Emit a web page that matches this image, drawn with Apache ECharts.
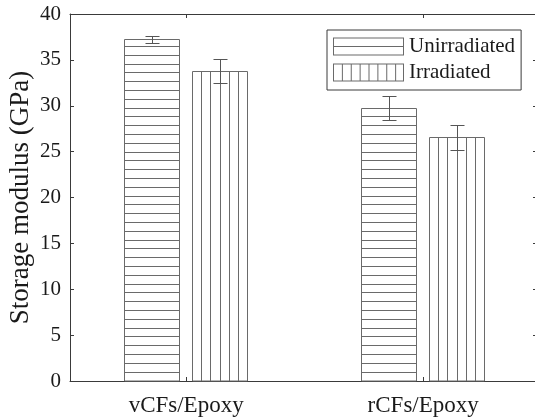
<!DOCTYPE html>
<html>
<head>
<meta charset="utf-8">
<script src="https://cdn.jsdelivr.net/npm/echarts@6/dist/echarts.min.js"></script>
<style>
  html, body { margin: 0; padding: 0; background: #fff; }
  #chart { width: 535px; height: 420px; }
</style>
</head>
<body>
<div id="chart"></div>
<script>
// ---- data ----
const categories = ['vCFs/Epoxy', 'rCFs/Epoxy'];
const seriesNames = ['Unirradiated', 'Irradiated'];
const unirradiated = [37.2, 29.7];
const unirradiatedErr = [0.4, 1.35];
const irradiated = [33.7, 26.5];
const irradiatedErr = [1.3, 1.4];
const yMin = 0, yMax = 40, yStep = 5;
const axisTitle = 'Storage modulus (GPa)';

// ---- style constants ----
const FONT = '"Liberation Serif", "Times New Roman", serif';
const AXIS = '#3a3a3a';
const LINE = '#6a6a6a';
const ERR = '#555';
const BAR_W = 0.232;   // bar width in category units
const BAR_GAP = 0.055; // gap between bars in a group
const H_STEP = 8.8;    // px between horizontal hatch lines
const V_DIV = 6;       // vertical hatch divisions per bar
const CAP = 7;         // half cap width px

function crisp(v) { return Math.round(v - 0.5) + 0.5; }
function seg(x1, y1, x2, y2, color) {
  return { type: 'line', shape: { x1: x1, y1: y1, x2: x2, y2: y2 },
           style: { stroke: color || LINE, lineWidth: 1 } };
}

function makeRender(side, hatch) {
  return function (params, api) {
    const xv = api.value(0), v = api.value(1), e = api.value(2);
    const unit = api.size([1, 0])[0];
    const bw = BAR_W * unit, gap = BAR_GAP * unit;
    const base = api.coord([xv, 0]);
    const cx = base[0] + side * (bw + gap) / 2;
    const yb = base[1];
    const yt = crisp(api.coord([xv, v])[1]);
    const yHi = crisp(api.coord([xv, v + e])[1]);
    const yLo = crisp(api.coord([xv, v - e])[1]);
    const x0 = crisp(cx - bw / 2), x1 = crisp(cx + bw / 2);
    const c = crisp(cx);
    const children = [{
      type: 'rect',
      shape: { x: x0, y: yt, width: x1 - x0, height: yb - yt },
      style: { fill: '#fff', stroke: LINE, lineWidth: 1 }
    }];
    if (hatch === 'h') {
      for (let y = yb - H_STEP; y > yt + 2; y -= H_STEP) {
        children.push(seg(x0, crisp(y), x1, crisp(y)));
      }
    } else {
      for (let k = 1; k < V_DIV; k++) {
        const x = crisp(x0 + (x1 - x0) * k / V_DIV);
        children.push(seg(x, yt, x, yb));
      }
    }
    children.push(seg(c, yHi, c, yLo, ERR));
    children.push(seg(c - CAP, yHi, c + CAP, yHi, ERR));
    children.push(seg(c - CAP, yLo, c + CAP, yLo, ERR));
    return { type: 'group', children: children };
  };
}

function buildData(vals, errs) {
  return vals.map(function (v, i) { return [i + 1, v, errs[i]]; });
}

// legend icons (71 x 18 units)
const frame = 'M0 0H71V1H0Z M0 17H71V18H0Z M0 0H1V18H0Z M70 0H71V18H70Z';
const iconH = 'path://' + frame + ' M0 8.5H71V9.5H0Z';
let vLines = '';
for (let k = 1; k < 8; k++) {
  const x = (71 * k / 8).toFixed(2);
  vLines += ' M' + x + ' 0H' + (71 * k / 8 + 1).toFixed(2) + 'V18H' + x + 'Z';
}
const iconV = 'path://' + frame + vLines;

const tickValues = categories.map(function (c, i) { return i + 1; });

function xAxisCfg(pos, showLabel) {
  return {
    type: 'value', position: pos, min: 0.51, max: 2.48,
    axisLine: { show: true, onZero: false, lineStyle: { color: AXIS, width: 1 } },
    axisTick: { show: true, inside: true, length: 4, customValues: tickValues,
                lineStyle: { color: AXIS } },
    axisLabel: { show: showLabel, customValues: tickValues, margin: 13,
                 fontFamily: FONT, fontSize: 23, color: '#1a1a1a',
                 formatter: function (v) { return categories[Math.round(v) - 1] || ''; } },
    splitLine: { show: false }
  };
}

function yAxisCfg(pos, showLabel) {
  return {
    type: 'value', position: pos, min: yMin, max: yMax, interval: yStep,
    axisLine: { show: true, lineStyle: { color: AXIS, width: 1 } },
    axisTick: { show: true, inside: true, length: 4, lineStyle: { color: AXIS } },
    axisLabel: { show: showLabel, margin: 9, fontFamily: FONT, fontSize: 21, color: '#1a1a1a' },
    splitLine: { show: false }
  };
}

const yLeft = yAxisCfg('left', true);
yLeft.name = axisTitle;
yLeft.nameLocation = 'middle';
yLeft.nameRotate = 90;
yLeft.nameGap = 36;
yLeft.nameMoveOverlap = false;
yLeft.nameTextStyle = { fontFamily: FONT, fontSize: 27, color: '#1a1a1a' };

const chart = echarts.init(document.getElementById('chart'), null, { renderer: 'canvas' });
chart.setOption({
  backgroundColor: '#fff',
  animation: false,
  grid: { left: 70, top: 14, right: -2, bottom: 39, containLabel: false, outerBoundsMode: 'none' },
  xAxis: [xAxisCfg('bottom', true), xAxisCfg('top', false)],
  yAxis: [yLeft, yAxisCfg('right', false)],
  legend: {
    orient: 'vertical', left: 327, top: 30,
    padding: [6, 6, 7, 6], itemGap: 5,
    itemWidth: 71, itemHeight: 18,
    borderColor: AXIS, borderWidth: 1,
    textStyle: { fontFamily: FONT, fontSize: 21, color: '#1a1a1a' },
    itemStyle: { color: LINE, borderWidth: 0 },
    data: [
      { name: seriesNames[0], icon: iconH, itemStyle: { color: LINE, borderWidth: 0 } },
      { name: seriesNames[1], icon: iconV, itemStyle: { color: LINE, borderWidth: 0 } }
    ]
  },
  series: [
    {
      name: seriesNames[0], type: 'custom', xAxisIndex: 0, yAxisIndex: 0,
      itemStyle: { color: LINE },
      dimensions: ['x', 'value', 'err'],
      encode: { x: 0, y: 1 },
      renderItem: makeRender(-1, 'h'),
      data: buildData(unirradiated, unirradiatedErr)
    },
    {
      name: seriesNames[1], type: 'custom', xAxisIndex: 0, yAxisIndex: 0,
      itemStyle: { color: LINE },
      dimensions: ['x', 'value', 'err'],
      encode: { x: 0, y: 1 },
      renderItem: makeRender(1, 'v'),
      data: buildData(irradiated, irradiatedErr)
    }
  ]
});
</script>
</body>
</html>
